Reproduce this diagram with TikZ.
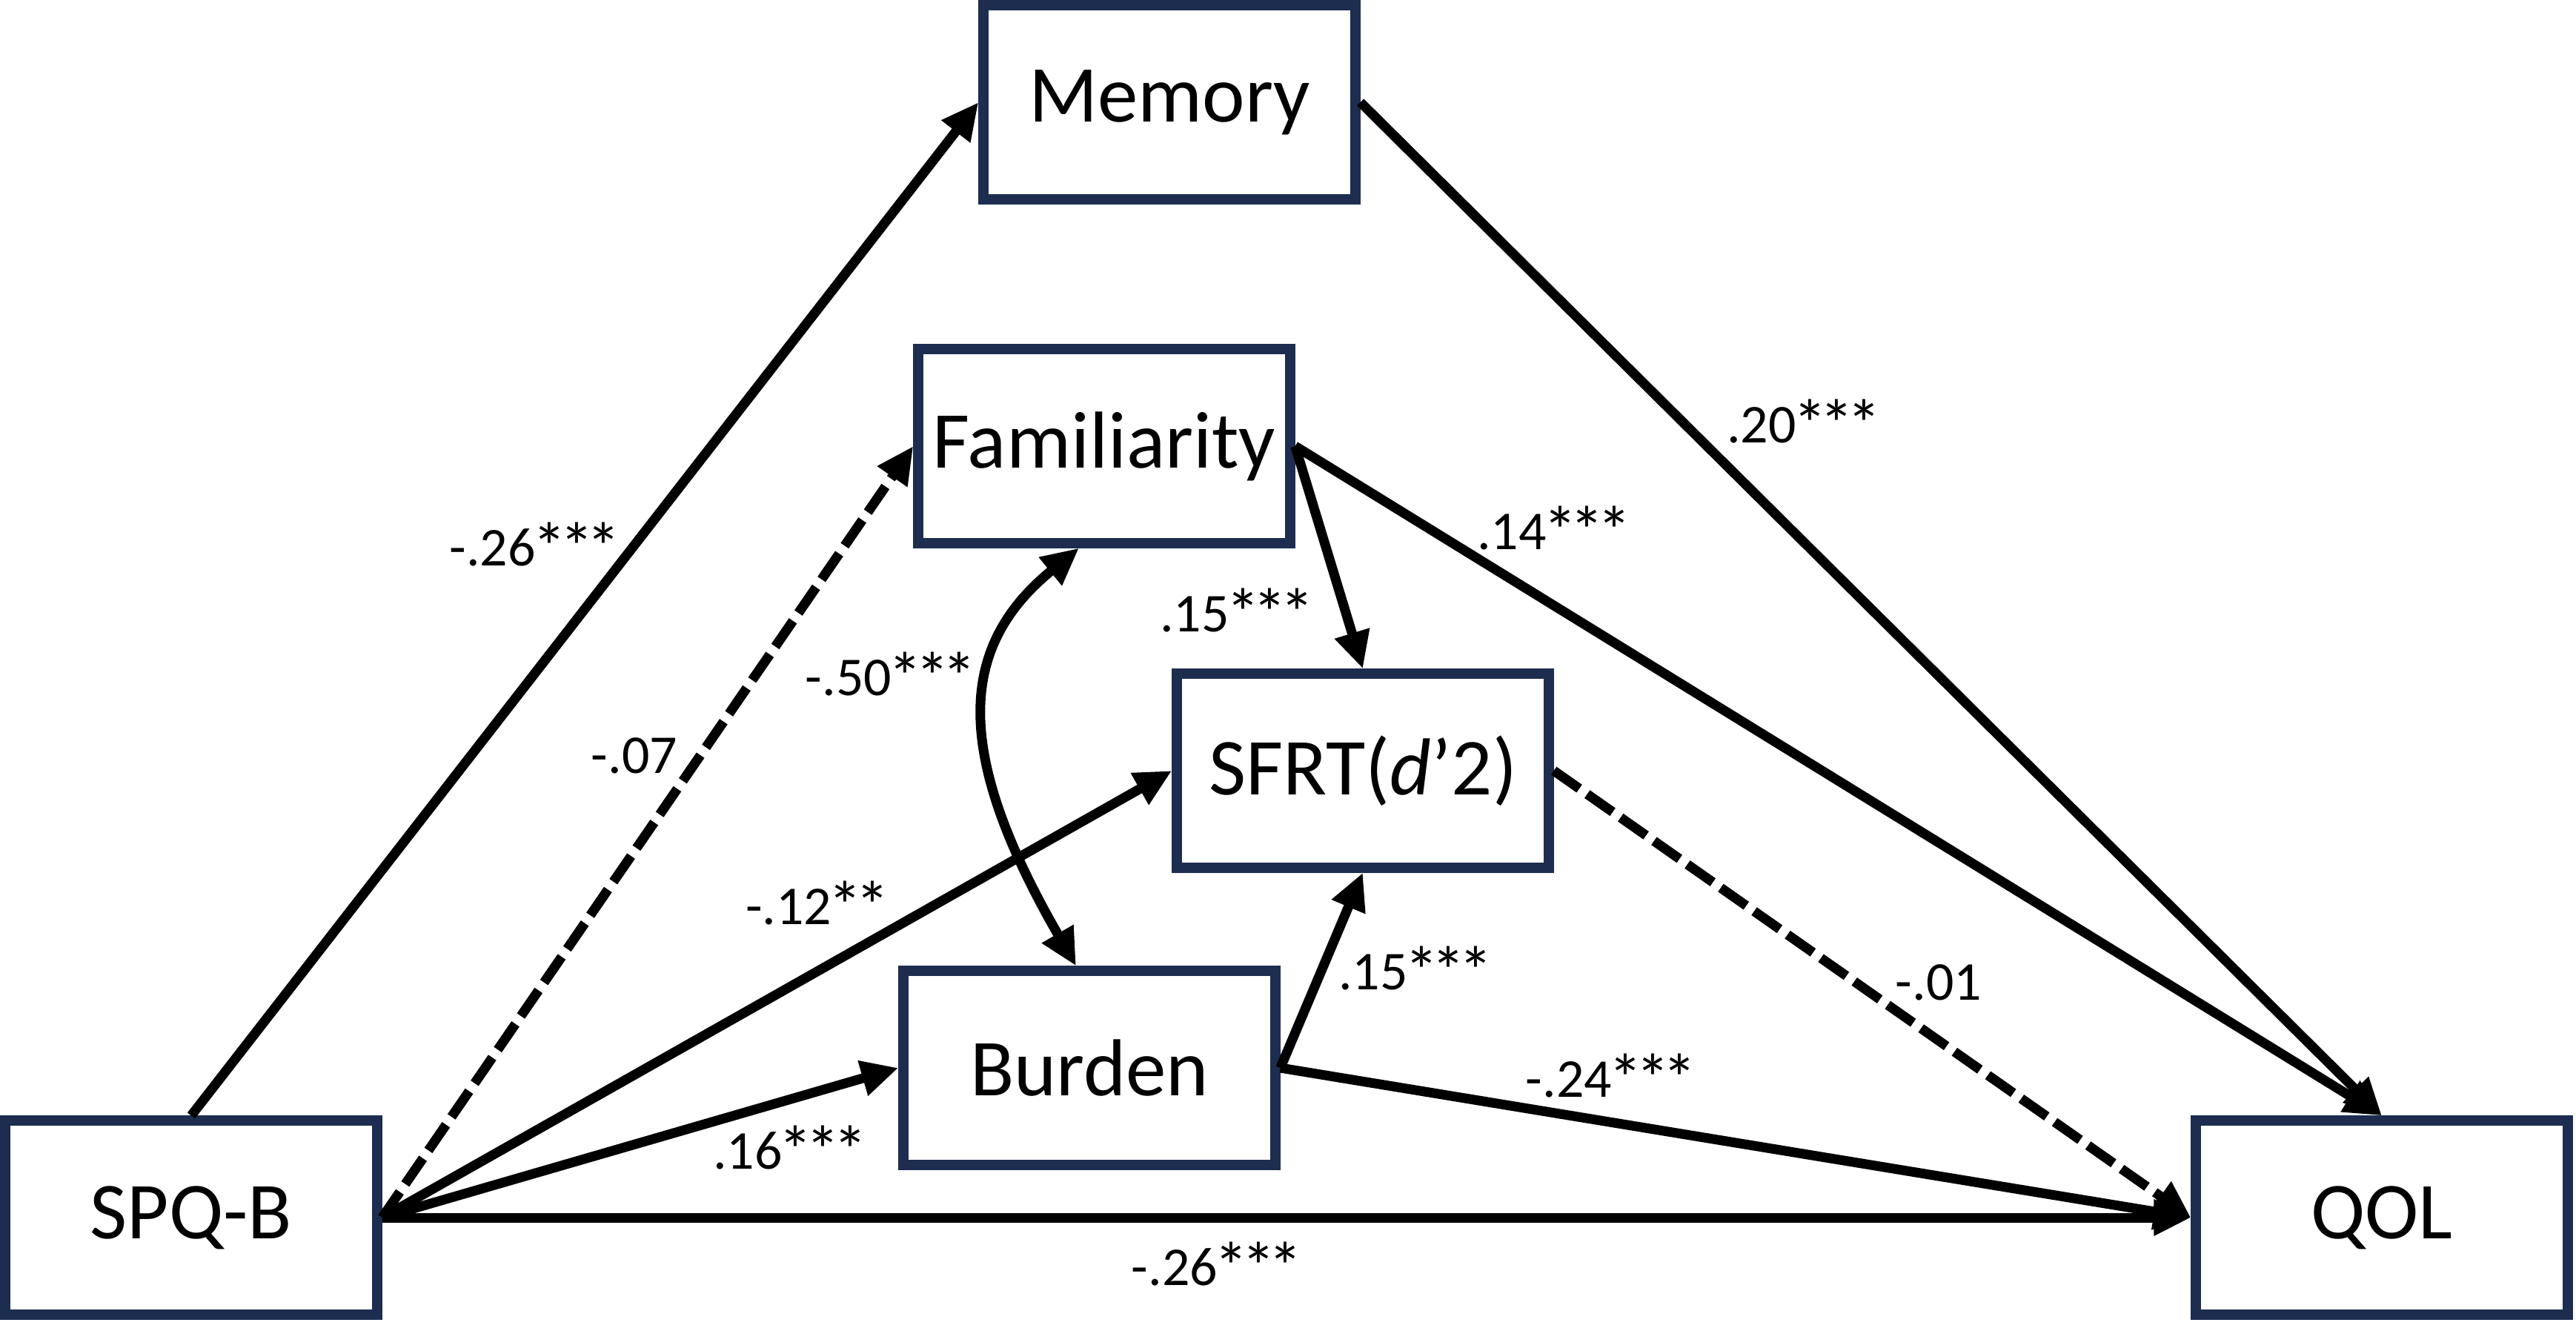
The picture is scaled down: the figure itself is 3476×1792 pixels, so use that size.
\documentclass[tikz,border=0pt]{standalone}
\usepackage{fontspec}
\setmainfont{Carlito}
\usetikzlibrary{arrows.meta,calc}
\definecolor{boxblue}{RGB}{28,45,80}
\newcommand{\st}{\makebox[0.498em][c]{\raisebox{-0.1em}{\scalebox{1.25}{*}}}}
\begin{document}
\begin{tikzpicture}[x=0.01cm,y=-0.01cm,
  box/.style={draw=boxblue,line width=0.14cm,minimum width=5.01cm,minimum height=2.61cm,inner sep=0pt,font=\fontsize{31}{37}\selectfont,fill=white},
  arr/.style={line width=0.13cm,-{Triangle[length=0.5cm,width=0.46cm]}},
  darr/.style={line width=0.13cm,{Triangle[length=0.5cm,width=0.46cm]}-{Triangle[length=0.5cm,width=0.46cm]}},
  dsh/.style={dash pattern=on 0.42cm off 0.13cm},
  lab/.style={font=\fontsize{21}{25}\selectfont,inner sep=0pt}]
\useasboundingbox (0,0) rectangle (3476,1792);
\node[box] (mem) at (1578,138) {Memory};
\node[box] (fam) at (1490,602) {Familiarity};
\node[box] (sfrt) at (1839,1040) {SFRT(\textit{d}’2)};
\node[box] (bur) at (1470,1441) {Burden};
\node[box] (spq) at (258,1643) {SPQ-B};
\node[box] (qol) at (3214,1643) {QOL};
% connectors
\draw[arr] (spq.north) -- (mem.west);
\draw[arr] (mem.east) -- (qol.north);
\draw[arr] (fam.east) -- (qol.north);
\draw[arr] (fam.east) -- (sfrt.north);
\draw[arr,dsh] (spq.east) -- (fam.west);
\draw[arr] (spq.east) -- (sfrt.west);
\draw[arr] (spq.east) -- (bur.west);
\draw[arr] (spq.east) -- (qol.west);
\draw[arr] (bur.east) -- (qol.west);
\draw[arr] (bur.east) -- (sfrt.south);
\draw[arr,dsh] (sfrt.east) -- (qol.west);
\coordinate (c1) at ($(fam.south)+(-34,0)$);
\coordinate (c2) at ($(bur.north)+(-18,0)$);
\draw[darr] (c1) .. controls (1291,874) and (1287,1017) .. (c2);
% labels
\node[lab] (l1) at (720,738) {-.26\st\st\st};
\node[lab] (l2) at (2432,572) {.20\st\st\st};
\node[lab] (l3) at (2095,716) {.14\st\st\st};
\node[lab] (l4) at (1667,827) {.15\st\st\st};
\node[lab] (l5) at (1200,913) {-.50\st\st\st};
\node[lab] (l6) at (856,1020) {-.07};
\node[lab] (l7) at (1101,1222) {-.12\st\st};
\node[lab] (l8) at (1908,1310) {.15\st\st\st};
\node[lab] (l9) at (2616,1326) {-.01};
\node[lab] (l10) at (2172,1455) {-.24\st\st\st};
\node[lab] (l11) at (1064,1552) {.16\st\st\st};
\node[lab] (l12) at (1640,1709) {-.26\st\st\st};
\end{tikzpicture}
\end{document}
